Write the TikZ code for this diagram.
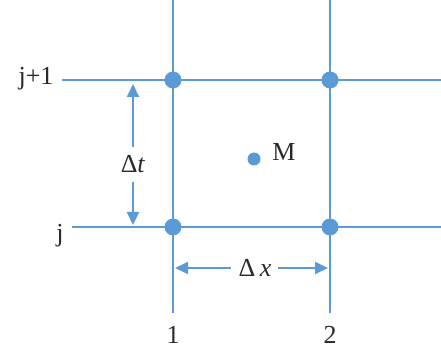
\documentclass[tikz,border=0pt]{standalone}
\usepackage{fontspec}
\setmainfont{Liberation Serif}
\usetikzlibrary{arrows.meta}
\definecolor{gridblue}{HTML}{5B9BD5}
\definecolor{txt}{HTML}{2A2A2A}
\begin{document}
\begin{tikzpicture}[x=1pt,y=-1pt,
  gline/.style={gridblue,line width=2.2pt},
  dot/.style={circle,fill=gridblue,inner sep=0pt,minimum size=17pt},
  mdot/.style={circle,fill=gridblue,inner sep=0pt,minimum size=13pt},
  lbl/.style={text=txt,font=\fontsize{26}{30}\selectfont,inner sep=0pt},
  dim/.style={gridblue,line width=1.8pt,-{Triangle[length=13pt,width=12pt]}}]
\useasboundingbox (0,0) rectangle (441,355);
\fill[white] (0,0) rectangle (441,355);
% labels
\node[lbl] (lj1) at (36,79) {j+1};
\node[lbl] (lj) at (60,236) {j};
\node[lbl] (l1) at (173,335) {1};
\node[lbl] (l2) at (330,335) {2};
% grid lines
\coordinate (h1s) at (62,80); \coordinate (h1e) at (441,80);
\coordinate (h2s) at (72,227); \coordinate (h2e) at (441,227);
\coordinate (v1s) at (173,0); \coordinate (v1e) at (173,313);
\coordinate (v2s) at (330,0); \coordinate (v2e) at (330,313);
\draw[gline] (h1s) -- (h1e);
\draw[gline] (h2s) -- (h2e);
\draw[gline] (v1s) -- (v1e);
\draw[gline] (v2s) -- (v2e);
% dots
\node[dot] (p11) at (173,80) {};
\node[dot] (p21) at (330,80) {};
\node[dot] (p10) at (173,227) {};
\node[dot] (p20) at (330,227) {};
\node[mdot] (m) at (254,159) {};
\node[lbl] (ml) at (284,152) {M};
% dimension dt
\node[lbl] (dt) at (133,164) {Δ\textit{t}};
\coordinate (dtt) at (133,84);
\coordinate (dtb) at (133,225);
\draw[dim] (133,147) -- (dtt);
\draw[dim] (133,182) -- (dtb);
% dimension dx
\node[lbl] (dx) at (255,268) {Δ\,\textit{x}};
\coordinate (dxl) at (175,268);
\coordinate (dxr) at (328,268);
\draw[dim] (231,268) -- (dxl);
\draw[dim] (278,268) -- (dxr);
\end{tikzpicture}
\end{document}
